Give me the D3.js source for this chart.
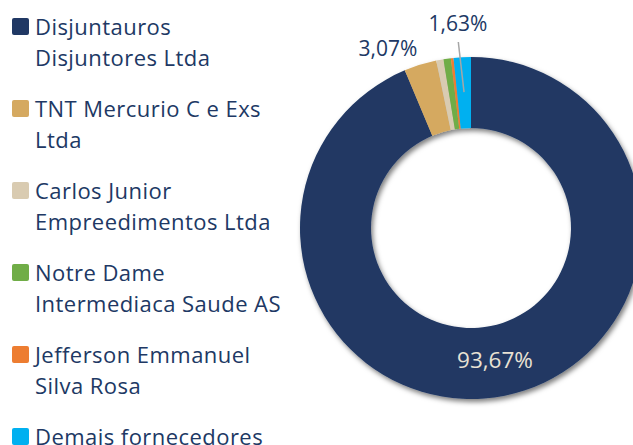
<!DOCTYPE html>
<html>
<head>
<meta charset="utf-8">
<script src="https://cdn.jsdelivr.net/npm/d3@7"></script>
<style>
  html, body { margin: 0; padding: 0; background: #fff; overflow: hidden; }
  svg { display: block; }
  text { font-family: "Open Sans", "Noto Sans", sans-serif; }
</style>
</head>
<body>
<svg id="chart" width="633" height="445"></svg>
<script>
// fornecedores (share of total)
const categories = [
  "Disjuntauros Disjuntores Ltda",
  "TNT Mercurio C e Exs Ltda",
  "Carlos Junior Empreedimentos Ltda",
  "Notre Dame Intermediaca Saude AS",
  "Jefferson Emmanuel Silva Rosa",
  "Demais fornecedores"
];
const values = [93.67, 3.07, 0.68, 0.70, 0.25, 1.63];
const legendLines = [
  ["Disjuntauros", "Disjuntores Ltda"],
  ["TNT Mercurio C e Exs", "Ltda"],
  ["Carlos Junior", "Empreedimentos Ltda"],
  ["Notre Dame", "Intermediaca Saude AS"],
  ["Jefferson Emmanuel", "Silva Rosa"],
  ["Demais fornecedores"]
];
const colors = ["#203864", "#d5a960", "#d9cbb1", "#70ad47", "#ed7d31", "#00b0f0"];
const shownLabels = ["93,67%", "3,07%", null, null, null, "1,63%"];

const svg = d3.select("#chart");
const textColor = "#203864";

// shadow like the office chart
const defs = svg.append("defs");
const f = defs.append("filter").attr("id", "shadow")
  .attr("x", "-20%").attr("y", "-20%").attr("width", "140%").attr("height", "140%");
f.append("feDropShadow")
  .attr("dx", 2).attr("dy", 3).attr("stdDeviation", 2.5)
  .attr("flood-color", "#000").attr("flood-opacity", 0.5);

const cx = 471, cy = 228, rOut = 171, rIn = 100;

const color = d3.scaleOrdinal().domain(categories).range(colors);

const pie = d3.pie().sort(null).value(d => d.v);
const arcs = pie(categories.map((c, i) => ({ c: c, v: values[i], i: i })));
const arc = d3.arc().innerRadius(rIn).outerRadius(rOut);

const g = svg.append("g").attr("transform", `translate(${cx},${cy})`);
g.append("g").attr("filter", "url(#shadow)")
  .selectAll("path")
  .data(arcs)
  .enter().append("path")
    .attr("d", arc)
    .attr("fill", d => color(d.data.c));

// big slice: label inside the ring
g.append("text")
  .attr("x", 24).attr("y", 140)
  .attr("text-anchor", "middle")
  .attr("font-size", 22.5)
  .attr("fill", "#e9e2d4")
  .text(shownLabels[0]);

// TNT label outside
const tnt = arcs[1];
const aT = (tnt.startAngle + tnt.endAngle) / 2;
g.append("text")
  .attr("x", Math.sin(aT) * (rOut + 18) - 27)
  .attr("y", -Math.cos(aT) * (rOut + 18) + 8)
  .attr("text-anchor", "middle")
  .attr("font-size", 21)
  .attr("fill", textColor)
  .text(shownLabels[1]);

// demais label with leader line
const dem = arcs[5];
const aD = (dem.startAngle + dem.endAngle) / 2;
const inner = [Math.sin(aD) * (rOut - 35), -Math.cos(aD) * (rOut - 35)];
g.append("line")
  .attr("x1", inner[0]).attr("y1", inner[1])
  .attr("x2", -12.7).attr("y2", -186)
  .attr("stroke", "#a6a6a6").attr("stroke-width", 1.5);
g.append("text")
  .attr("x", -13).attr("y", -197)
  .attr("text-anchor", "middle")
  .attr("font-size", 21)
  .attr("fill", textColor)
  .text(shownLabels[5]);

// legend
const leg = svg.append("g").attr("transform", "translate(12,0)");
const item = leg.selectAll("g.item")
  .data(categories)
  .enter().append("g")
    .attr("class", "item")
    .attr("transform", (d, i) => `translate(0,${35 + i * 82})`);

item.append("rect")
  .attr("x", 0).attr("y", -17)
  .attr("width", 17).attr("height", 17)
  .attr("rx", 2)
  .attr("fill", d => color(d));

item.each(function (d, i) {
  const t = d3.select(this).append("text")
    .attr("font-size", 22)
    .attr("letter-spacing", 0.45)
    .attr("fill", textColor);
  legendLines[i].forEach((ln, j) => {
    t.append("tspan").attr("x", 23).attr("y", j * 31).text(ln);
  });
});
</script>
</body>
</html>
